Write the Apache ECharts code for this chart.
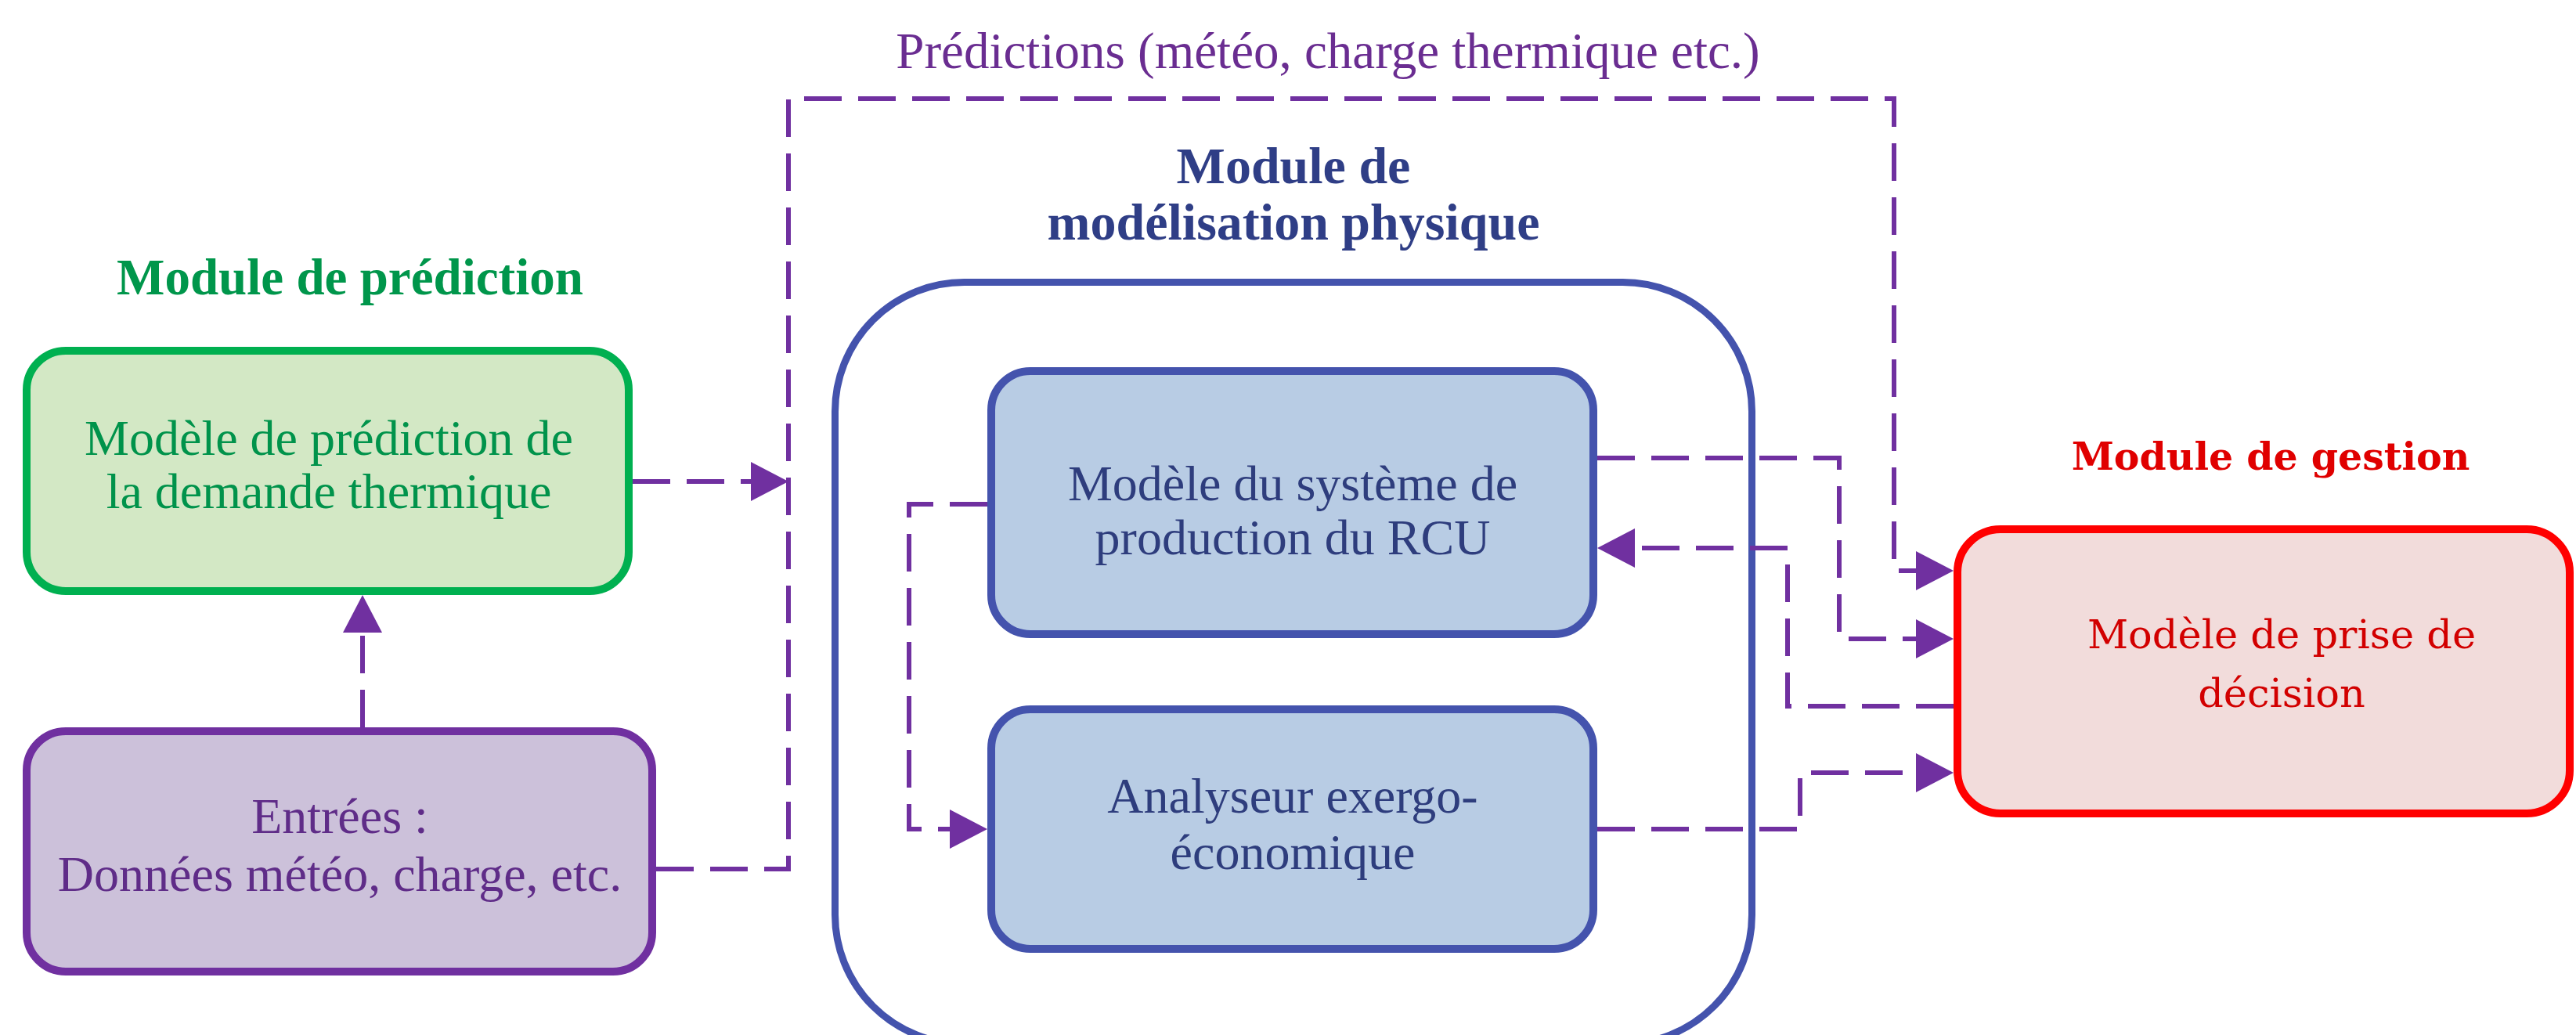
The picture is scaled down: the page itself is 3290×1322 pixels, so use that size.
<!DOCTYPE html>
<html><head><meta charset="utf-8">
<script src="https://cdn.jsdelivr.net/npm/echarts@6/dist/echarts.min.js"></script>
<style>html,body{margin:0;padding:0;background:#fff;overflow:hidden}#c{width:3290px;height:1322px}</style>
</head><body><div id="c"></div>
<script>
// ---- content ----
const boxKeys = ['physique', 'prediction', 'entrees', 'rcu', 'exergo', 'decision'];
const boxTexts = [
  [],
  ['Modèle de prédiction de', 'la demande thermique'],
  ['Entrées :', 'Données météo, charge, etc.'],
  ['Modèle du système de', 'production du RCU'],
  ['Analyseur exergo-', 'économique'],
  ['Modèle de prise de', 'décision']
];
const titleTexts = [
  'Prédictions (météo, charge thermique etc.)',
  'Module de',
  'modélisation physique',
  'Module de prédiction',
  'Module de gestion'
];
// connectors: [fromBox, toBox]
const connectorLinks = [
  ['entrees', 'prediction'],
  ['prediction', 'physique'],
  ['entrees', 'decision'],
  ['rcu', 'decision'],
  ['decision', 'rcu'],
  ['exergo', 'decision'],
  ['rcu', 'exergo']
];

// ---- layout (diagram units, y downward) ----
const boxRects = [
  [1062, 356, 2242, 1338],
  [29, 443, 808, 760],
  [29, 929, 838, 1246],
  [1261, 469, 2040, 815],
  [1261, 901, 2040, 1217],
  [2495, 671, 3287, 1044]
];
const boxRadius = [165, 50, 50, 50, 50, 55];
const boxTextPos = [
  [],
  [[420, 564], [420, 632]],
  [[434, 1047], [434, 1121]],
  [[1651, 622], [1651, 691]],
  [[1651, 1021], [1651, 1093]],
  [[2914, 815], [2914, 890]]
];
const titlePos = [[1696, 70], [1652, 217], [1652, 289], [447, 359], [2900, 587]];
const connectorPaths = [
  [[463, 929], [463, 760]],
  [[808, 615], [1007, 615]],
  [[838, 1110], [1007, 1110], [1007, 126], [2419, 126], [2419, 729], [2495, 729]],
  [[2040, 585], [2349, 585], [2349, 816], [2495, 816]],
  [[2495, 902], [2283, 902], [2283, 700], [2040, 700]],
  [[2040, 1059], [2299, 1059], [2299, 987], [2495, 987]],
  [[1261, 644], [1161, 644], [1161, 1059], [1261, 1059]]
];

// ---- styles ----
const SERIF = '"Liberation Serif", "DejaVu Serif", serif';
const WIDE = '"DejaVu Serif", serif';
const boxStyles = [
  { fill: '#ffffff', stroke: '#4453ad', lw: 9, color: '#2e3d7d', font: SERIF, size: 64 },
  { fill: '#d3e8c5', stroke: '#00b050', lw: 10, color: '#00934b', font: SERIF, size: 64 },
  { fill: '#ccc1da', stroke: '#7030a0', lw: 10, color: '#5f2c88', font: SERIF, size: 64 },
  { fill: '#b8cce4', stroke: '#4453ad', lw: 10, color: '#2e3d7d', font: SERIF, size: 64 },
  { fill: '#b8cce4', stroke: '#4453ad', lw: 10, color: '#2e3d7d', font: SERIF, size: 64 },
  { fill: '#f2dcdb', stroke: '#ff0000', lw: 10, color: '#d20000', font: WIDE, size: 51 }
];
const titleStyles = [
  { color: '#6a2d91', font: SERIF, size: 65, weight: 'normal' },
  { color: '#2f3e86', font: SERIF, size: 66, weight: 'bold' },
  { color: '#2f3e86', font: SERIF, size: 66, weight: 'bold' },
  { color: '#00964b', font: SERIF, size: 65, weight: 'bold' },
  { color: '#e00000', font: WIDE, size: 49, weight: 'bold' }
];
const LINE_COLOR = '#7030a0';

const chart = echarts.init(document.getElementById('c'), null, { renderer: 'canvas' });

function renderBox(params, api) {
  const i = api.value(0);
  const r = boxRects[i], st = boxStyles[i], h = st.lw / 2;
  const p0 = api.coord([r[0], r[1]]), p1 = api.coord([r[2], r[3]]);
  const children = [{
    type: 'rect',
    shape: { x: p0[0] + h, y: p0[1] + h, width: p1[0] - p0[0] - st.lw, height: p1[1] - p0[1] - st.lw, r: boxRadius[i] },
    style: { fill: st.fill, stroke: st.stroke, lineWidth: st.lw }
  }];
  boxTexts[i].forEach((t, k) => {
    const p = api.coord(boxTextPos[i][k]);
    children.push({
      type: 'text',
      style: { text: t, x: p[0], y: p[1], fill: st.color, fontFamily: st.font, fontSize: st.size,
               align: 'center', verticalAlign: 'middle' }
    });
  });
  return { type: 'group', children };
}

function renderTitle(params, api) {
  const i = api.value(0);
  const st = titleStyles[i];
  const p = api.coord(titlePos[i]);
  return {
    type: 'text',
    style: { text: titleTexts[i], x: p[0], y: p[1], fill: st.color, fontFamily: st.font, fontSize: st.size,
             fontWeight: st.weight, align: 'center', verticalAlign: 'middle' }
  };
}

function renderConnector(params, api) {
  const i = api.value(0);
  const pts = connectorPaths[i].map(p => api.coord(p));
  const n = pts.length;
  const tip = pts[n - 1], prev = pts[n - 2];
  const dx = tip[0] - prev[0], dy = tip[1] - prev[1];
  const len = Math.hypot(dx, dy), ux = dx / len, uy = dy / len;
  const AL = 48, AW = 50;
  const bx = tip[0] - ux * AL, by = tip[1] - uy * AL;
  const linePts = pts.slice(0, n - 1).concat([[bx + ux * 6, by + uy * 6]]);
  return {
    type: 'group',
    children: [
      { type: 'polyline', shape: { points: linePts },
        style: { stroke: LINE_COLOR, lineWidth: 6, lineDash: [48, 21], fill: null } },
      { type: 'polygon', shape: { points: [tip, [bx - uy * AW / 2, by + ux * AW / 2], [bx + uy * AW / 2, by - ux * AW / 2]] },
        style: { fill: LINE_COLOR, stroke: null } }
    ]
  };
}

chart.setOption({
  animation: false,
  backgroundColor: '#ffffff',
  grid: { left: 0, right: 0, top: 0, bottom: 0 },
  xAxis: { type: 'value', min: 0, max: 3290, show: false },
  yAxis: { type: 'value', min: 0, max: 1322, inverse: true, show: false },
  series: [
    { type: 'custom', name: 'boxes', clip: false, silent: true, z: 1,
      renderItem: renderBox, data: boxKeys.map((k, i) => [i]) },
    { type: 'custom', name: 'connectors', clip: false, silent: true, z: 3,
      renderItem: renderConnector, data: connectorLinks.map((c, i) => [i]) },
    { type: 'custom', name: 'titles', clip: false, silent: true, z: 4,
      renderItem: renderTitle, data: titleTexts.map((t, i) => [i]) }
  ]
});
</script>
</body></html>
